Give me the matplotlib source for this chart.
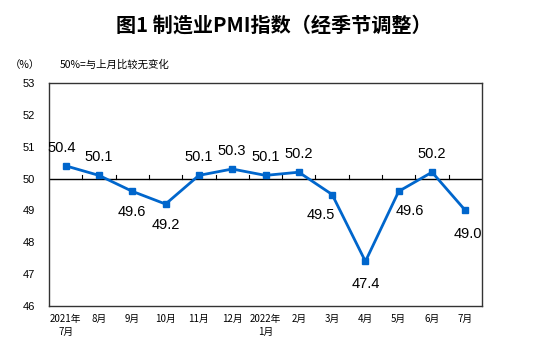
import matplotlib
matplotlib.use("Agg")
import matplotlib.pyplot as plt

plt.rcParams['font.family'] = ['Noto Sans CJK SC', 'DejaVu Sans']

months = ["2021年\n7月", "8月", "9月", "10月", "11月", "12月", "2022年\n1月",
          "2月", "3月", "4月", "5月", "6月", "7月"]
pmi = [50.4, 50.1, 49.6, 49.2, 50.1, 50.3, 50.1, 50.2, 49.5, 47.4, 49.6, 50.2, 49.0]
# label placement: (dx, dy) offset in points for each value label
label_offsets = [(-3, 13), (0, 13), (0, -15), (0, -15), (0, 13), (0, 13), (0, 13),
                 (0, 13), (-8, -15), (0, -16), (8, -14), (0, 13), (2, -17)]

blue = "#0066CC"

fig = plt.figure(figsize=(5.54, 3.49), dpi=100)
ax = fig.add_axes([49 / 554, 1 - 306 / 349, 433 / 554, 223 / 349])

x = [i + 0.5 for i in range(len(pmi))]
ax.plot(x, pmi, color=blue, lw=2, marker="s", ms=5, zorder=3)

for xi, v, (dx, dy) in zip(x, pmi, label_offsets):
    ax.annotate(f"{v:.1f}", (xi, v), xytext=(dx, dy), textcoords="offset points",
                ha="center", va="center", fontsize=10.5, family="Liberation Sans")

ax.set_xlim(0, len(pmi))
ax.set_ylim(46, 53)
ax.set_yticks(range(46, 54))
ax.set_yticklabels([str(t) for t in range(46, 54)], family="Liberation Sans", fontsize=8)
ax.tick_params(axis="y", length=0, pad=10)

# the 50 line with upward tick marks at month boundaries
ax.axhline(50, color="black", lw=1, zorder=2)
for b in range(1, len(pmi)):
    ax.plot([b, b], [50, 50.1], color="black", lw=0.8, zorder=2)

ax.set_xticks(x)
ax.set_xticklabels(months, fontsize=7, linespacing=1.3)
ax.tick_params(axis="x", length=0, pad=6)

for s in ax.spines.values():
    s.set_color("#333333")
    s.set_linewidth(1)

fig.text(274 / 554, 1 - 25 / 349, "图1 制造业PMI指数（经季节调整）", ha="center", va="center",
         fontsize=14.5, fontweight="bold")
fig.text(10 / 554, 1 - 65 / 349, "（%）", ha="left", va="center", fontsize=7.5)
fig.text(60 / 554, 1 - 65 / 349, "50%=与上月比较无变化", ha="left", va="center", fontsize=7.5)

fig.savefig("out.png", dpi=100)
